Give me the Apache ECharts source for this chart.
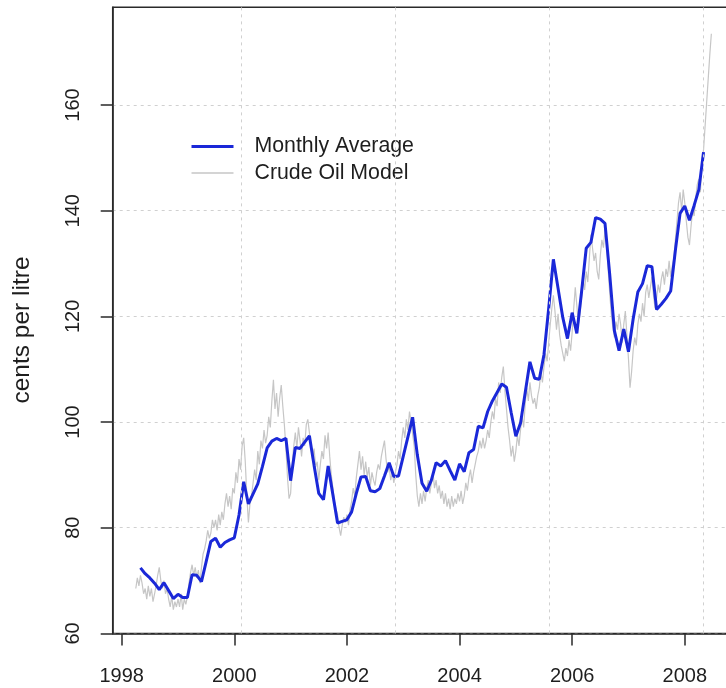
<!DOCTYPE html>
<html>
<head>
<meta charset="utf-8">
<script src="https://cdn.jsdelivr.net/npm/echarts@6/dist/echarts.min.js"></script>
<style>
  html, body { margin: 0; padding: 0; background: #ffffff; }
  #chart { width: 726px; height: 688px; }
</style>
</head>
<body>
<div id="chart"></div>
<script>
// Axis ticks and guide lines
const xTickYears = [1998, 2000, 2002, 2004, 2006, 2008];
const yTickValues = [60, 80, 100, 120, 140, 160];
const gridDays = [11000, 12000, 13000, 14000]; // vertical guides, days since 1970-01-01

// Monthly average pump price (cents per litre), one value per month from May 1998
const monthlyStart = [1998, 5];
const monthlyAverage = [
  72.4, 71.3, 70.5, 69.5, 68.3, 69.6, 68.1, 66.6,                          // 1998
  67.4, 66.8, 66.8, 71.1, 71.0, 69.8, 73.6, 77.4, 78.0, 76.3, 77.2, 77.7,  // 1999
  78.1, 82.4, 88.7, 84.5, 86.4, 88.3, 91.6, 95.1, 96.4, 96.9, 96.5, 96.9,  // 2000
  88.9, 95.2, 95.0, 96.2, 97.4, 91.8, 86.5, 85.3, 91.7, 86.3, 80.9, 81.2,  // 2001
  81.5, 83.0, 86.5, 89.6, 89.7, 87.0, 86.8, 87.4, 89.8, 92.3, 89.7, 89.8,  // 2002
  93.5, 97.2, 100.9, 93.8, 88.4, 86.9, 89.0, 92.3, 91.7, 92.7, 90.8, 89.0, // 2003
  92.1, 90.6, 94.2, 94.8, 99.2, 98.9, 102.0, 104.0, 105.6, 107.2, 106.6, 101.8, // 2004
  97.3, 99.8, 105.6, 111.4, 108.3, 108.1, 112.8, 121.5, 130.8, 125.3, 119.8, 115.8, // 2005
  120.7, 116.8, 124.6, 132.9, 134.0, 138.7, 138.4, 137.6, 128.0, 117.3, 113.5, 117.6, // 2006
  113.3, 119.5, 124.6, 126.2, 129.6, 129.4, 121.3, 122.3, 123.4, 124.8, 132.5, 139.5, // 2007
  140.9, 138.2, 141.0, 144.0, 151.1                                        // 2008
];

// Crude oil model price, three readings per month from April 1998
const modelStart = [1998, 4];
const modelPerMonth = 3;
const modelValues = [
  // 1998 Apr-Dec
  68.5, 70.5, 69.0,  71.0, 69.5, 67.5,  68.5, 66.5, 69.0,  67.0, 68.5, 66.0,
  67.5, 69.0, 71.0,  72.5, 70.0, 68.5,  70.0, 67.5, 68.5,  66.5, 65.0, 67.0,
  64.5, 66.0, 65.0,
  // 1999
  66.5, 65.0, 67.5,  64.5, 66.5, 65.5,  67.0, 69.5, 71.5,  73.0, 71.0, 72.5,
  70.5, 72.0, 69.5,  72.5, 75.0, 76.0,  77.5, 79.5, 78.0,  79.0, 81.5, 80.0,
  81.5, 79.5, 82.5,  80.5, 83.0, 81.5,  84.5, 86.5, 84.0,  86.0, 83.5, 87.5,
  // 2000
  86.5, 90.5, 88.5,  93.0, 91.0, 95.5,  97.0, 92.5, 86.0,  81.0, 84.5, 86.0,
  88.5, 91.0, 89.0,  94.5, 92.0, 96.5,  95.0, 98.5, 96.0,  97.5, 101.0, 99.0,
  104.0, 108.0, 102.5,  105.5, 101.0, 104.5,  107.0, 103.0, 99.5,  95.0, 89.5, 85.5,
  // 2001
  86.5, 92.0, 95.5,  98.0, 95.0, 99.0,  96.5, 93.5, 97.0,  95.5, 99.5, 100.5,
  98.0, 95.5, 93.0,  95.0, 91.5, 92.5,  89.0, 92.0, 94.5,  93.0, 97.5, 95.0,
  98.0, 93.5, 90.0,  87.5, 85.0, 83.5,  82.5, 80.0, 78.5,  80.5, 82.0, 81.0,
  // 2002
  82.5, 80.5, 83.5,  85.0, 87.5, 86.0,  89.5, 92.0, 94.5,  91.0, 93.5, 90.0,
  92.5, 89.5, 91.5,  88.0, 90.5, 89.0,  88.0, 90.5, 92.0,  91.0, 93.5, 95.0,
  96.5, 93.0, 90.5,  91.5, 89.0, 90.5,  88.5, 90.5, 92.0,  94.5, 93.0, 96.5,
  // 2003
  99.0, 97.0, 100.5,  98.5, 102.0, 100.0,  100.0, 95.5, 90.0,  86.0, 84.0, 86.5,
  84.5, 87.0, 85.0,  87.5, 89.0, 86.5,  88.5, 90.5, 87.5,  89.0, 86.5, 88.0,
  85.5, 87.0, 84.5,  86.5, 84.0, 85.5,  83.5, 86.0, 84.0,  85.5, 84.5, 86.5,
  // 2004
  85.0, 87.0, 84.5,  86.0, 88.5, 87.0,  89.5, 91.0, 88.5,  90.5, 92.0, 93.5,
  94.5, 96.5, 95.0,  97.0, 95.0, 96.5,  98.5, 97.0, 100.0,  102.0, 100.5, 104.5,
  103.0, 107.5, 105.5,  108.5, 110.5, 106.0,  102.5, 99.0, 96.5,  93.5, 95.5, 92.5,
  // 2005
  94.5, 97.5, 95.5,  98.5, 101.0, 99.0,  103.5, 106.5, 104.0,  107.5, 105.0, 103.5,
  104.5, 102.5, 105.0,  106.5, 109.5, 107.5,  110.5, 113.0, 111.5,  115.0, 118.5, 121.5,
  124.0, 121.0, 117.5,  120.5, 116.5, 114.5,  113.0, 111.5, 114.0,  112.5, 115.5, 113.5,
  // 2006
  117.0, 121.5, 125.5,  122.0, 118.5, 120.5,  123.5, 127.0, 125.0,  128.5, 126.5, 131.0,
  135.5, 133.0, 130.5,  132.0, 128.5, 127.0,  131.5, 134.5, 133.0,  136.5, 133.5, 129.0,
  124.5, 120.5, 118.0,  116.0, 119.0, 117.5,  120.5, 118.5, 115.0,  118.5, 121.0, 116.5,
  // 2007
  112.0, 106.5, 109.5,  113.5, 116.0, 114.5,  118.5, 120.5, 119.0,  122.5, 120.0, 124.5,
  126.0, 123.5, 125.5,  127.5, 124.0, 121.5,  123.5, 126.0, 124.5,  127.0, 128.5, 126.0,
  129.0, 127.5, 130.5,  127.5, 129.5, 131.0,  134.5, 138.0, 141.5,  143.5, 140.0, 144.0,
  // 2008 Jan-Jun
  141.5, 138.0, 135.0,  133.5, 137.0, 140.0,  139.0, 142.5, 145.0,  146.0, 143.5, 149.5,
  151.5, 156.0, 160.5,  165.0, 169.5, 173.5
];

// Decimal-year positions
const avgData = monthlyAverage.map((v, i) =>
  [monthlyStart[0] + (monthlyStart[1] - 1 + i) / 12, v]);
const modelData = modelValues.map((v, i) =>
  [modelStart[0] + (modelStart[1] - 1) / 12 + i / (12 * modelPerMonth), v]);
const guideYears = gridDays.map(d => 1970 + d / 365.2425);

const FONT = "'Liberation Sans', Arial, Helvetica, sans-serif";
const INK = '#1e1e1e';
const FRAME = '#2a2a2a';
const GUIDE = '#d0d0d0';
const BLUE = '#1a28d8';
const GREY = '#c6c6c6';

const chart = echarts.init(document.getElementById('chart'), null, { renderer: 'canvas' });
chart.setOption({
  animation: false,
  backgroundColor: '#ffffff',
  grid: {
    left: 112.7, top: 7.3, bottom: 54.6, width: 623.3,
    outerBoundsMode: 'none', containLabel: false,
    show: true, borderColor: FRAME, borderWidth: 1.5, backgroundColor: 'transparent'
  },
  legend: {
    orient: 'vertical',
    left: 190, top: 136, padding: 0,
    itemWidth: 42, itemHeight: 20, itemGap: 5.5,
    data: [
      { name: 'Monthly Average', lineStyle: { width: 3, color: BLUE } },
      { name: 'Crude Oil Model', lineStyle: { width: 1.5, color: GREY } }
    ],
    itemStyle: { opacity: 0 },
    textStyle: { fontFamily: FONT, fontSize: 21.3, color: INK, padding: [0, 0, 0, 16] },
    selectedMode: false
  },
  xAxis: {
    type: 'value', min: 1997.84, max: 2008.91,
    axisLine: { show: true, lineStyle: { color: FRAME, width: 1.5 } },
    axisTick: { show: true, length: 12, customValues: xTickYears, lineStyle: { color: FRAME, width: 1.5 } },
    axisLabel: { customValues: xTickYears, margin: 33, fontSize: 20, fontFamily: FONT, color: INK,
                 formatter: v => String(v) },
    splitLine: { show: false }
  },
  yAxis: {
    type: 'value', min: 60, max: 178.5, interval: 20,
    axisLine: { show: true, lineStyle: { color: FRAME, width: 1.5 } },
    axisTick: { show: true, length: 12, customValues: yTickValues, lineStyle: { color: FRAME, width: 1.5 } },
    axisLabel: { customValues: yTickValues, rotate: 90, margin: 29, fontSize: 20, fontFamily: FONT, color: INK },
    splitLine: { show: true, lineStyle: { type: [3, 4], color: GUIDE, width: 1 } }
  },
  graphic: [{
    type: 'text', x: 22, y: 330, rotation: Math.PI / 2,
    style: { text: 'cents per litre', font: '24.5px ' + FONT, fill: INK, align: 'center', verticalAlign: 'middle' }
  }],
  series: [
    {
      name: 'Crude Oil Model', type: 'line', data: modelData, symbol: 'none', z: 2,
      lineStyle: { color: GREY, width: 1.2 }, itemStyle: { color: GREY },
      markLine: {
        silent: true, symbol: 'none', label: { show: false },
        lineStyle: { type: [3, 4], color: GUIDE, width: 1 },
        data: guideYears.map(x => ({ xAxis: x }))
      }
    },
    {
      name: 'Monthly Average', type: 'line', data: avgData, symbol: 'none', z: 3,
      lineStyle: { color: BLUE, width: 3 }, itemStyle: { color: BLUE }
    }
  ]
});
</script>
</body>
</html>
